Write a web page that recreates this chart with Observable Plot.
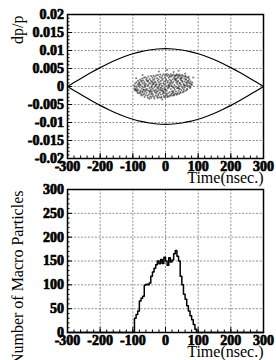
<!DOCTYPE html>
<html><head><meta charset="utf-8">
<script src="https://cdn.jsdelivr.net/npm/d3@7"></script>
<script src="https://cdn.jsdelivr.net/npm/@observablehq/plot@0.6"></script>
<style>
body{margin:0;background:#fff;width:276px;height:360px;overflow:hidden}
#c svg{display:block;overflow:visible}
</style></head><body><div id="c"></div>
<script>
// ---- tick labels ----
const timeTicks = [-300, -200, -100, 0, 100, 200, 300];
const dpTicks = [-0.02, -0.015, -0.01, -0.005, 0, 0.005, 0.01, 0.015, 0.02];
const countTicks = [0, 50, 100, 150, 200, 250, 300];

// ---- separatrix ----
const sepTime = [-300,-275,-250,-225,-200,-175,-150,-125,-100,-75,-50,-25,0,25,50,75,100,125,150,175,200,225,250,275,300];
const sepUpper = [0,0.00137,0.00272,0.00402,0.00525,0.00639,0.00742,0.00833,0.00909,0.0097,0.01014,0.01041,0.0105,0.01041,0.01014,0.0097,0.00909,0.00833,0.00742,0.00639,0.00525,0.00402,0.00272,0.00137,0];
const sepLower = [0,-0.00137,-0.00272,-0.00402,-0.00525,-0.00639,-0.00742,-0.00833,-0.00909,-0.0097,-0.01014,-0.01041,-0.0105,-0.01041,-0.01014,-0.0097,-0.00909,-0.00833,-0.00742,-0.00639,-0.00525,-0.00402,-0.00272,-0.00137,0];

// ---- macro particle cloud: time (ns), dp/p in units of 1e-3 ----
const cloudT = [-96,-94,-93,-91,-90,-89,-88,-86,-85,-84,-83,-82,
-80,-80,-79,-78,-77,-76,-75,-74,-73,-72,-71,-70,-70,-69,-68,-67,-66,-66,-65,-65,
-64,-63,-62,-62,-61,-60,-59,-58,-57,-57,-56,-55,-54,-53,-52,-52,-51,-50,-49,-48,-48,-47,-46,-45,-45,
-44,-44,-43,-42,-42,-41,-40,-40,-39,-38,-38,-37,-36,-36,-35,-34,-34,-33,-32,-32,-31,-30,-30,-29,-28,-28,-27,-26,-26,-25,
-24,-24,-23,-22,-22,-21,-20,-20,-19,-18,-18,-17,-16,-16,-15,-14,-14,-13,-12,-12,-11,-10,-10,-9,-8,-8,-7,-6,-6,-5,
-4,-4,-3,-2,-2,-1,0,0,1,2,2,3,4,4,5,6,6,7,8,8,9,10,10,11,12,12,13,14,14,15,
16,16,17,18,18,19,20,20,21,22,22,23,24,24,25,26,26,27,28,28,29,30,30,31,32,32,33,34,34,35,
36,36,37,38,38,39,40,40,41,42,42,43,44,45,46,46,47,48,49,50,50,52,53,54,55,
56,57,58,59,60,61,62,63,64,65,66,68,69,70,72,73,75,77,79,82,
-70,-50,-20,5,25,40,60,-90,85,-10,
-92,-87,-81,-77,-73,-68,-63,-58,-53,-49,-43,-39,-33,-29,-23,-19,-13,-9,-3,1,7,11,17,21,27,31,37,41,47,51,57,62,67,71,76,
-89,-79,-71,-61,-56,-46,-41,-37,-27,-21,-15,-7,-1,3,9,13,19,23,29,33,39,44,49,53,58,63,67,74,
-95,-84,-74,-64,-54,-44,-34,-24,-14,-4,6,16,26,36,46,56,66,76,81,71,61,51,43,35];
const cloudDp = [0.2,-0.5,0.8,-1.1,0.1,1.2,-0.4,-1.5,0.6,1.6,-0.9,0.3,
-1.8,1.1,-0.2,1.9,-1.2,0.5,-2.1,1.4,-0.6,2.2,0.0,-1.6,0.9,-2.3,1.7,-0.3,2.4,-1.0,0.6,-2.0,
1.2,-1.4,2.6,-0.1,-2.4,0.7,1.9,-1.8,-0.7,2.3,0.2,-2.6,1.4,-1.1,2.8,0.4,-2.2,1.0,-0.4,2.1,-1.7,-2.8,0.8,1.6,-0.9,
2.9,-2.1,0.1,1.3,-1.4,-2.7,2.4,0.5,-0.6,1.8,-2.3,3.0,-1.1,0.9,-2.9,2.1,-0.2,1.4,-1.7,2.7,0.3,-2.5,1.1,-0.8,3.1,-1.9,0.6,2.3,-2.8,-0.3,
1.6,-1.3,3.2,0.0,-2.4,2.0,-0.9,1.2,-3.0,2.7,0.4,-1.6,3.3,-0.4,1.5,-2.2,0.8,2.4,-1.1,-2.9,0.2,3.0,1.8,-0.6,-2.0,2.2,0.9,-1.4,3.4,-2.6,
0.5,1.4,-0.2,2.6,-1.8,3.1,-2.9,0.8,-0.9,2.0,-2.3,3.5,0.1,-1.2,2.9,-2.6,1.1,-0.5,3.3,-1.9,0.4,2.4,-2.8,-0.1,3.0,1.0,-1.5,-2.4,2.7,0.6,
-0.7,3.4,1.6,-2.1,0.2,2.8,-1.3,3.1,0.9,-2.5,2.0,-0.3,3.3,1.3,-1.7,-2.2,2.5,0.4,3.0,-0.9,1.8,-2.0,2.9,0.0,-1.4,3.2,1.1,-2.3,2.2,-0.5,
3.0,0.7,-1.8,2.4,-0.2,1.5,-1.2,3.1,0.3,-2.0,2.7,1.0,-0.7,2.1,-1.5,3.0,0.5,1.7,-1.0,2.6,-0.1,1.2,-1.6,2.9,0.6,
-0.9,2.2,1.4,-0.3,2.8,0.2,-1.2,1.9,2.6,0.7,-0.6,1.5,2.4,0.0,1.0,2.0,-0.4,1.4,0.6,1.1,
3.2,-3.4,4.2,4.6,4.0,4.4,3.6,2.3,2.5,-3.6,
-0.8,-1.0,0.9,-1.5,1.6,-0.9,0.2,-1.1,1.7,-1.3,-0.3,1.1,-1.2,0.4,-0.5,0.6,-0.3,-1.2,-0.7,1.7,1.5,0.3,1.2,-1.8,-0.4,2.0,1.3,-0.5,2.3,1.6,0.5,2.0,1.1,1.6,0.8,
-1.2,0.4,-1.4,-0.8,1.5,-1.3,-1.9,0.6,-1.4,-2.0,-1.0,-1.6,-1.0,-2.0,-0.3,1.9,0.1,-1.3,2.2,1.7,-0.5,0.9,2.2,-0.4,0.3,1.1,0.3,0.2,
-0.9,-1.9,-2.5,-2.9,-3.1,-3.2,-3.3,-3.2,-3.1,-3.0,-2.9,-2.6,-2.4,-2.1,-1.8,-1.4,-0.9,-0.2,0.4,2.7,3.0,3.2,3.3,3.4];

// ---- histogram: bin start time (ns) and number of macro particles ----
const binTime = [-300,-100,-95,-90,-85,-80,-75,-70,-65,-60,-55,-50,-45,-40,-35,-30,-25,-20,-15,-10,-5,0,5,10,15,20,25,30,35,40,45,50,55,60,65,70,75,80,85,90,95,300];
const binCount = [0,0,30,38,45,66,72,76,99,101,100,104,118,127,135,142,150,144,153,145,158,150,141,157,148,152,165,172,160,150,118,100,80,70,56,45,35,27,17,7,0,0];

// ---- build tables ----
const sepUp = sepTime.map((t, i) => ({t, dp: sepUpper[i]}));
const sepLo = sepTime.map((t, i) => ({t, dp: sepLower[i]}));
const cloud = cloudT.map((t, i) => ({t, dp: cloudDp[i] / 1000}));
const hist = binTime.map((t, i) => ({t, n: binCount[i]}));

const timeMinor = d3.range(-300, 301, 20);
const dpMinor = d3.range(-20, 21, 1).map(v => v / 1000);
const countMinor = d3.range(0, 301, 10);

const font = "'Liberation Serif', 'Times New Roman', serif";
const style = {fontFamily: font, fontSize: "14px", color: "black", background: "white", overflow: "visible"};
const W = 276, ML = 67, MR = 13;
const FW = W - ML - MR;
const grid = {stroke: "#777", strokeOpacity: 1, strokeWidth: 0.8, strokeDasharray: "2,1.5"};
const boldText = {fontSize: 14, fontWeight: "bold", textStroke: "black", textStrokeWidth: 0.7, textStrokeOpacity: 1};

function axesMarks(xTicks, yTicks, yMinor, FH, yFmt) {
  return [
    Plot.tickX(timeMinor, {x: d => d, insetTop: FH - 2.5, stroke: "black"}),
    Plot.tickX(xTicks, {x: d => d, insetTop: FH - 5, stroke: "black"}),
    Plot.tickY(yMinor, {y: d => d, insetRight: FW - 2.5, stroke: "black"}),
    Plot.tickY(yTicks, {y: d => d, insetRight: FW - 5, stroke: "black"}),
    Plot.axisX(xTicks, {tickSize: 0, tickPadding: 3, tickFormat: d => String(d), ...boldText, label: null}),
    Plot.axisY(yTicks, {tickSize: 0, tickPadding: 3.5, tickFormat: yFmt, ...boldText, label: null}),
    Plot.frame({stroke: "black", strokeWidth: 1.5}),
    Plot.text(["Time(nsec.)"], {text: d => d, frameAnchor: "bottom-right", textAnchor: "end", lineAnchor: "bottom", dy: 24.5, fontSize: 16})
  ];
}

const H1 = 186, MT1 = 14, MB1 = 28;
const topPlot = Plot.plot({
  width: W, height: H1, marginLeft: ML, marginRight: MR, marginTop: MT1, marginBottom: MB1,
  style,
  x: {domain: [-300, 300]},
  y: {domain: [-0.02, 0.02]},
  marks: [
    Plot.gridX(timeTicks.slice(1, -1), grid),
    Plot.gridY(dpTicks.slice(1, -1), grid),
    Plot.dot(cloud, {x: "t", y: "dp", r: 1, fill: "#222", fillOpacity: 0.6, stroke: null}),
    Plot.line(sepUp, {x: "t", y: "dp", curve: "catmull-rom", stroke: "black", strokeWidth: 1.2}),
    Plot.line(sepLo, {x: "t", y: "dp", curve: "catmull-rom", stroke: "black", strokeWidth: 1.2}),
    ...axesMarks(timeTicks, dpTicks, dpMinor, H1 - MT1 - MB1, d => String(d)),
    Plot.text(["dp/p"], {text: d => d, frameAnchor: "top-left", rotate: -90, textAnchor: "end", lineAnchor: "middle", dx: -50, dy: 1, fontSize: 16})
  ]
});

const H2 = 174, MT2 = 3, MB2 = 28;
const botPlot = Plot.plot({
  width: W, height: H2, marginLeft: ML, marginRight: MR, marginTop: MT2, marginBottom: MB2,
  style,
  x: {domain: [-300, 300]},
  y: {domain: [0, 300]},
  marks: [
    Plot.gridX(timeTicks.slice(1, -1), grid),
    Plot.gridY(countTicks.slice(1, -1), grid),
    Plot.line(hist, {x: "t", y: "n", curve: "step-after", stroke: "black", strokeWidth: 1.5}),
    ...axesMarks(timeTicks, countTicks, countMinor, H2 - MT2 - MB2, d => String(d)),
    Plot.text(["Number of Macro Particles"], {text: d => d, frameAnchor: "top-left", rotate: -90, textAnchor: "end", lineAnchor: "middle", dx: -50, dy: 1, fontSize: 16})
  ]
});

const c = document.getElementById("c");
c.appendChild(topPlot);
c.appendChild(botPlot);
</script></body></html>
